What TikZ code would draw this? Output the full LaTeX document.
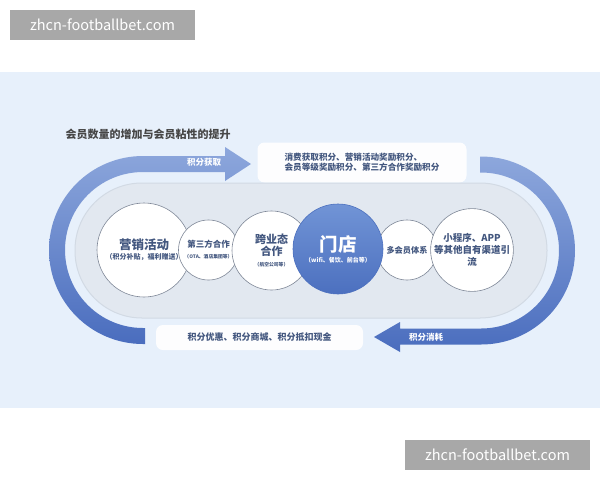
\documentclass[tikz,border=0pt]{standalone}
\usepackage{fontspec}
\setmainfont{Noto Sans CJK SC}
\usepackage{tikz}
\definecolor{panelblue}{HTML}{E7F0FB}
\definecolor{trackfill}{HTML}{E2E8F0}
\definecolor{trackrim}{HTML}{D2DAE4}
\definecolor{ringgray}{HTML}{7E8797}
\definecolor{inktext}{HTML}{43577F}
\definecolor{arcdark}{HTML}{4A6DBE}
\definecolor{arclight}{HTML}{8DA7DC}
\definecolor{storelight}{HTML}{7194D6}
\definecolor{storedark}{HTML}{4C70BF}
\definecolor{markgray}{HTML}{A8A8A8}

\begin{document}
\begin{tikzpicture}[x=1pt,y=-1pt,
  ring/.style={circle,draw=ringgray,line width=0.6pt,fill=white,align=center,inner sep=0pt,text=inktext,font=\bfseries},
  storering/.style={circle,draw=storedark,line width=0.6pt,top color=storelight,bottom color=storedark,align=center,inner sep=0pt,text=white,font=\bfseries},
  notebox/.style={rounded corners=7pt,fill=white,fill opacity=0.92,text opacity=1,text=inktext,align=left,inner sep=0pt},
  arclabel/.style={text=white,font=\bfseries\fontsize{8.5}{10}\selectfont},
  wmark/.style={fill=markgray,text=white,minimum width=185,minimum height=30,inner sep=0pt,font=\fontsize{14.5}{18}\selectfont}]
\useasboundingbox (0,0) rectangle (600,480);
\fill[white] (0,0) rectangle (600,480);
\fill[panelblue] (0,72) rectangle (600,408);

% watermarks
\node[wmark] (wmtop) at (102.5,25) {zhcn-footballbet.com};
\node[wmark] (wmbot) at (497.5,455) {zhcn-footballbet.com};

% title
\node[anchor=west,text=black!72,font=\bfseries\fontsize{11}{13}\selectfont] (title) at (62,134) {会员数量的增加与会员粘性的提升};

% loop arrows
\shade[top color=arclight,bottom color=arcdark]
  (225,156) -- (225,147) -- (251,164) -- (225,181) -- (225,172) -- (143,172)
  arc[start angle=270,end angle=90,radius=78] -- (145,328) -- (145,344) -- (143,344)
  arc[start angle=90,end angle=270,radius=94] -- cycle;
\shade[top color=arclight,bottom color=arcdark]
  (480,156.5) -- (481,156.5) arc[start angle=-90,end angle=90,radius=94]
  -- (400,344.5) -- (400,352) -- (374,337) -- (400,322) -- (400,328.5) -- (481,328.5)
  arc[start angle=90,end angle=-90,radius=78] -- (480,172.5) -- cycle;
\node[arclabel] (gainlabel) at (204,162) {积分获取};
\node[arclabel] (uselabel) at (426,337) {积分消耗};

% text boxes
\node[notebox,minimum width=209,minimum height=40,font=\bfseries\fontsize{8.6}{10}\selectfont] (gain) at (362,162.5)
  {消费获取积分、营销活动奖励积分、\\会员等级奖励积分、第三方合作奖励积分};
\node[notebox,minimum width=207,minimum height=25,font=\bfseries\fontsize{9}{11}\selectfont] (use) at (259.5,337.5)
  {积分优惠、积分商城、积分抵扣现金};

% track
\node[rounded corners=67pt,fill=trackfill,draw=trackrim,line width=1pt,minimum width=472,minimum height=135] (track) at (311,250.5) {};

% circles
\node[ring,minimum size=94] (promo) at (144,250)
  {\fontsize{12.5}{14}\selectfont 营销活动\\[-2pt]\fontsize{7}{8}\selectfont （积分补贴，福利赠送）};
\node[ring,minimum size=60] (third) at (208.5,250)
  {\fontsize{8.5}{9}\selectfont 第三方合作\\[-1pt]\fontsize{4.8}{5}\selectfont （OTA、酒店集团等）};
\node[ring,minimum size=79] (cross) at (271.5,250.5)
  {\fontsize{11}{12}\selectfont 跨业态\\\fontsize{11}{12}\selectfont 合作\\[-1pt]\fontsize{4.8}{5}\selectfont （航空公司等）};
\node[ring,minimum size=60] (multi) at (407,250)
  {\fontsize{8.2}{10}\selectfont 多会员体系};
\node[ring,minimum size=82] (own) at (472,250)
  {\fontsize{9.5}{12}\selectfont 小程序、APP\\\fontsize{9.5}{12}\selectfont 等其他自有渠道引\\\fontsize{9.5}{11}\selectfont 流};
\node[storering,minimum size=90] (store) at (338,249)
  {\fontsize{18.5}{20}\selectfont 门店\\[-1pt]\fontsize{6}{7}\selectfont （wifi、餐饮、前台等）};
\end{tikzpicture}
\end{document}
